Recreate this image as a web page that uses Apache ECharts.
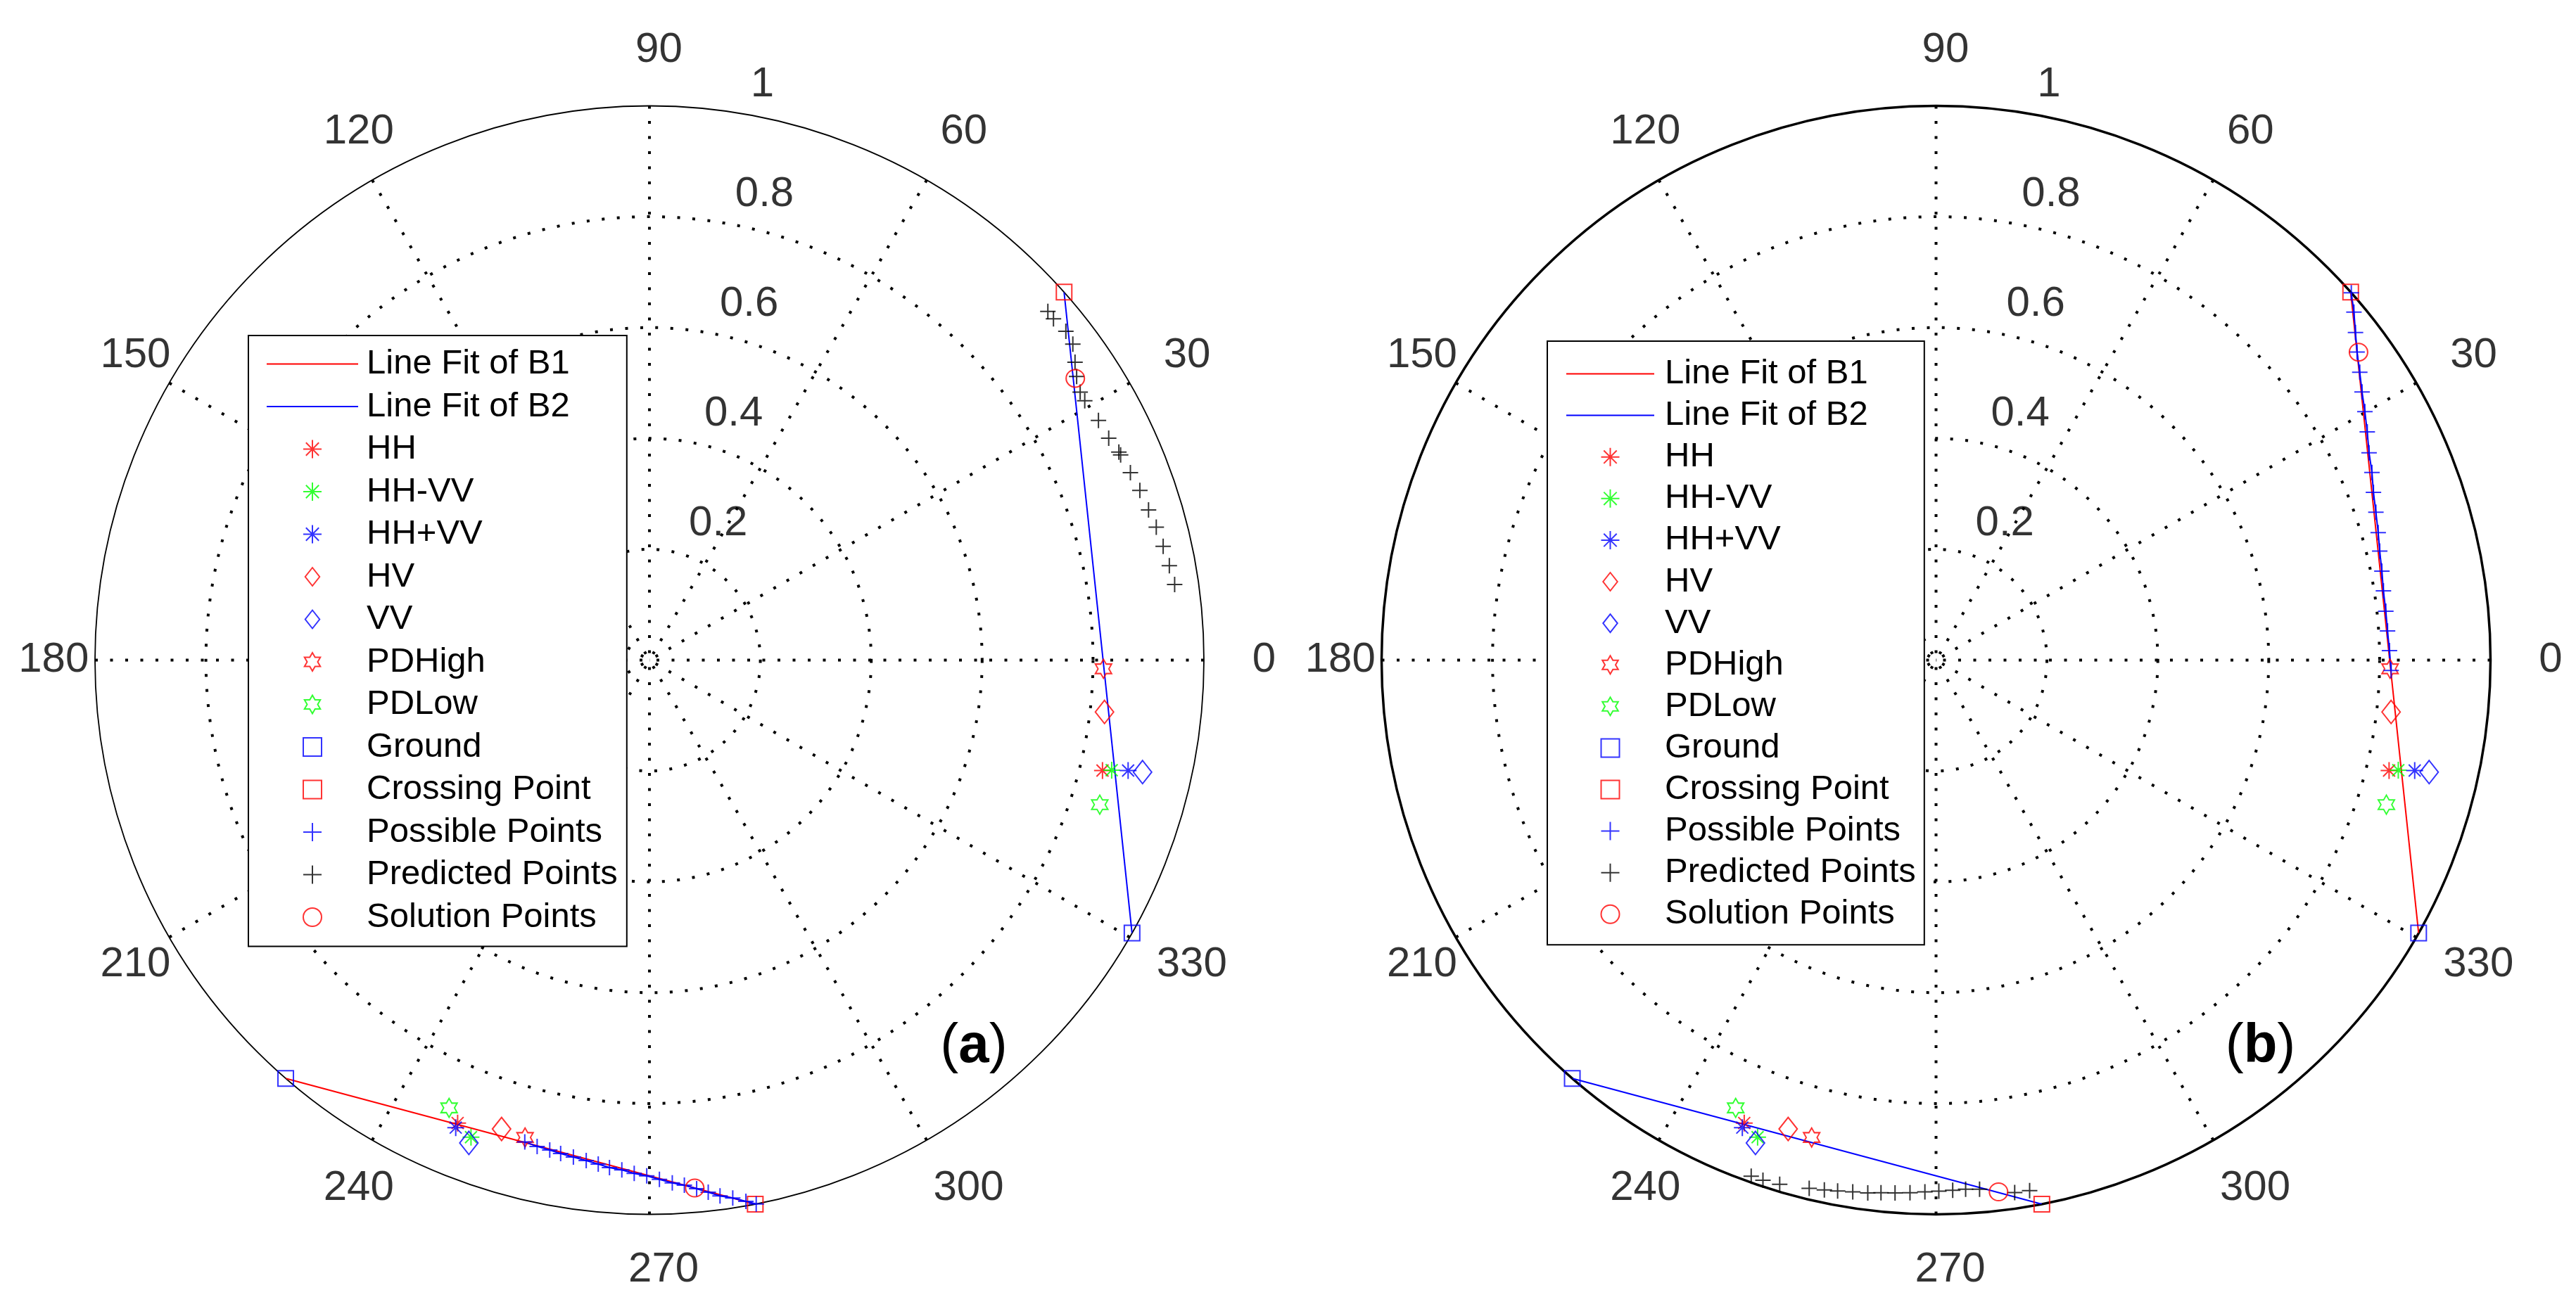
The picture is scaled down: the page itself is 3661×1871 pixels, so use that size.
<!DOCTYPE html>
<html><head><meta charset="utf-8">
<script src="https://cdn.jsdelivr.net/npm/echarts@6/dist/echarts.min.js"></script>
<style>html,body{margin:0;padding:0;background:#fff}#c{width:3661px;height:1871px}</style>
</head><body><div id="c"></div>
<script>
// ---------- tick labels ----------
const angleTicks = [0, 30, 60, 90, 120, 150, 180, 210, 240, 270, 300, 330];
const radiusTicks = [0.2, 0.4, 0.6, 0.8, 1];
const panelLabels = ['a', 'b'];

// ---------- data: [radius, angle(deg)] ----------
const HH      = [[0.841, 346.3], [0.904, 247.5]];
const HHmVV   = [[0.857, 346.6], [0.919, 249.5]];
const HHpVV   = [[0.886, 347.0], [0.913, 247.5]];
const HV      = [[0.826, 353.5], [0.887, 252.5]];
const VV      = [[0.912, 347.2], [0.930, 249.5]];
const PDHigh  = [[0.819, 358.9], [0.890, 255.4]];
const PDLow   = [[0.853, 342.2], [0.885, 245.9]];
const Ground  = [[1.0, 330.5], [1.0, 229.0]];
const Crossing = [[1.0, 41.6], [1.0, 281.0]];

// panel (a)
const fitB1_a = [[1.0, 229.0], [1.0, 281.0]];
const fitB2_a = [[1.0, 330.5], [1.0, 41.6]];
const possible_a = [[0.898,255.5],[0.9005,257.0],[0.902,258.5],[0.9045,259.8],[0.907,261.3],[0.910,262.8],[0.914,264.2],[0.9185,265.5],[0.921,266.9],[0.9265,268.3],[0.9305,269.7],[0.937,271.1],[0.944,272.5],[0.9495,273.8],[0.9575,275.1],[0.966,276.3],[0.975,277.5],[0.982,278.8],[0.992,280.1],[1.0,281.1]];
const predicted_a = [[0.955,41.2],[0.954,40.2],[0.957,38.3],[0.953,36.75],[0.937,35.0],[0.925,33.6],[0.915,31.9],[0.914,30.8],[0.918,28.1],[0.920,25.8],[0.926,23.9],[0.927,23.55],[0.931,21.3],[0.936,19.1],[0.940,16.75],[0.945,14.7],[0.949,12.5],[0.953,10.3],[0.957,8.2]];
const solution_a = [[0.921, 33.5], [0.956, 274.9]];

// panel (b)
const fitB1_b = [[1.0, 330.5], [1.0, 41.6]];
const fitB2_b = [[1.0, 229.0], [1.0, 281.0]];
const possible_b = [[1.0,41.5],[0.981,39.8],[0.960,38.0],[0.941,36.2],[0.924,34.2],[0.908,32.2],[0.894,30.1],[0.880,27.9],[0.866,25.6],[0.856,23.3],[0.845,21.0],[0.837,18.6],[0.830,16.1],[0.824,13.8],[0.820,11.3],[0.8165,8.8],[0.816,6.2],[0.816,3.7],[0.818,1.2],[0.821,358.7]];
const predicted_b = [[0.989,250.3],[0.989,251.6],[0.987,253.4],[0.980,256.5],[0.977,258.1],[0.974,259.5],[0.971,261.1],[0.969,262.7],[0.966,264.1],[0.964,265.6],[0.962,267.2],[0.9595,268.8],[0.958,270.3],[0.957,271.8],[0.956,273.2],[0.958,274.7],[0.971,278.4],[0.972,280.0]];
const solution_b = [[0.943, 36.1], [0.966, 276.7]];

// ---------- styles ----------
const FONT = '"Liberation Sans", Arial, Helvetica, sans-serif';
const RED = '#ff0000', GREEN = '#00ff00', BLUE = '#0000ff', BLACK = '#000000';
const CX = [923, 2751.5], CY = 938.5, R = 788;
const DOT = [4, 17.5];

const P_PLUS = 'path://M0,-1L0,1M-1,0L1,0';
const P_AST = 'path://M0,-1L0,1M-1,0L1,0M-0.707,-0.707L0.707,0.707M-0.707,0.707L0.707,-0.707';
const P_HEX = 'path://M0,-1L-0.2887,-0.5L-0.866,-0.5L-0.577,0L-0.866,0.5L-0.2887,0.5L0,1L0.2887,0.5L0.866,0.5L0.577,0L0.866,-0.5L0.2887,-0.5Z';
const P_RECT = 'path://M-1,-1L1,-1L1,1L-1,1Z';
const P_DIAM = 'path://M0,-33L26,0L0,33L-26,0Z';

function marker(name, data, symbol, size, color, pi) {
  return {
    name, type: 'scatter', coordinateSystem: 'polar', polarIndex: pi, data,
    symbol, symbolSize: size, clip: false, silent: true, z: 5,
    itemStyle: { color: 'rgba(0,0,0,0)', borderColor: color, borderWidth: 2 },
    emphasis: { disabled: true }
  };
}
function fitLine(name, data, color, pi, z) {
  return {
    name, type: 'line', coordinateSystem: 'polar', polarIndex: pi, data,
    symbol: 'none', clip: false, silent: true, z: z || 3,
    lineStyle: { color, width: 2 }, itemStyle: { color },
    emphasis: { disabled: true }
  };
}
function tickLabelSeries(pi) {
  return [{
    type: 'scatter', coordinateSystem: 'polar', polarIndex: pi, silent: true, clip: false,
    symbol: 'circle', symbolSize: 1, itemStyle: { color: 'rgba(0,0,0,0)' }, z: 6,
    emphasis: { disabled: true },
    data: angleTicks.map(a => ({ value: [1.1, a], label: { offset: [6.7 * String(a).length, 0] } })),
    label: { show: true, position: 'inside', formatter: p => String(p.value[1]),
      fontSize: 60, fontFamily: FONT, color: BLACK }
  }, {
    type: 'scatter', coordinateSystem: 'polar', polarIndex: pi, silent: true, clip: false,
    symbol: 'circle', symbolSize: 1, itemStyle: { color: 'rgba(0,0,0,0)' }, z: 6,
    emphasis: { disabled: true },
    data: radiusTicks.map(r => ({ name: String(r), value: [r + 0.01, 82] })),
    label: { show: true, position: 'inside', align: 'left', verticalAlign: 'bottom',
      formatter: '{b}', padding: [0, 0, 0, 33], fontSize: 60, fontFamily: FONT, color: BLACK }
  }];
}
function panelSeries(pi, fitB1, fitB2, possible, predicted, solution) {
  return [
    fitLine('Line Fit of B1', fitB1, RED, pi),
    fitLine('Line Fit of B2', fitB2, BLUE, pi),
    fitLine('Line Fit of B2', possible, BLUE, pi, 4),
    marker('HH', HH, P_AST, 24, RED, pi),
    marker('HH-VV', HHmVV, P_AST, 24, GREEN, pi),
    marker('HH+VV', HHpVV, P_AST, 24, BLUE, pi),
    marker('HV', HV, P_DIAM, [26, 33], RED, pi),
    marker('VV', VV, P_DIAM, [26, 33], BLUE, pi),
    marker('PDHigh', PDHigh, P_HEX, [23, 27], RED, pi),
    marker('PDLow', PDLow, P_HEX, [23, 27], GREEN, pi),
    marker('Ground', Ground, P_RECT, 22, BLUE, pi),
    marker('Crossing Point', Crossing, P_RECT, 22, RED, pi),
    marker('Possible Points', possible, P_PLUS, 22, BLUE, pi),
    marker('Predicted Points', predicted, P_PLUS, 22, BLACK, pi),
    marker('Solution Points', solution, 'circle', [26, 25], RED, pi)
  ].concat(tickLabelSeries(pi));
}

const legendNames = ['Line Fit of B1', 'Line Fit of B2', 'HH', 'HH-VV', 'HH+VV', 'HV', 'VV', 'PDHigh', 'PDLow', 'Ground', 'Crossing Point', 'Possible Points', 'Predicted Points', 'Solution Points'];
const legendData = legendNames.map(n => n.indexOf('Line Fit') === 0 ? { name: n, itemStyle: { opacity: 0 } } : { name: n });

function legendCfg(left, top, itemWidth, gap, padding, textPad) {
  return {
    type: 'plain', orient: 'vertical', left, top, itemWidth, itemHeight: 26, itemGap: gap,
    padding, borderColor: BLACK, borderWidth: 2, backgroundColor: '#fff', selectedMode: false,
    symbolKeepAspect: true,
    textStyle: { fontSize: 49, lineHeight: 49, fontFamily: FONT, color: BLACK, padding: [0, 0, 0, textPad] },
    data: legendData, z: 10
  };
}

function axes(pi, lineW) {
  return {
    angle: {
      polarIndex: pi, type: 'value', min: 0, max: 360, interval: 30, startAngle: 0, clockwise: false,
      axisLine: { show: true, lineStyle: { color: BLACK, width: lineW } },
      axisTick: { show: false }, axisLabel: { show: false },
      splitLine: { show: true, lineStyle: { color: BLACK, width: 4, type: DOT } }
    },
    radius: {
      polarIndex: pi, type: 'value', min: 0, max: 1, interval: 0.2,
      axisLine: { show: false }, axisTick: { show: false }, axisLabel: { show: false },
      splitLine: { show: true, lineStyle: { color: [BLACK, BLACK, BLACK, BLACK, BLACK, 'rgba(0,0,0,0)'], width: 4, type: DOT } }
    }
  };
}
const ax0 = axes(0, 1.8), ax1 = axes(1, 3.5);

const chart = echarts.init(document.getElementById('c'), null, { renderer: 'canvas' });
chart.setOption({
  animation: false,
  backgroundColor: '#fff',
  polar: [
    { center: [CX[0], CY], radius: R },
    { center: [CX[1], CY], radius: R }
  ],
  angleAxis: [ax0.angle, ax1.angle],
  radiusAxis: [ax0.radius, ax1.radius],
  legend: [
    legendCfg(353, 477, 130, 11.5, [16, 13, 17, 25], 7),
    legendCfg(2199, 485, 125, 10.1, [22, 12, 19, 26], 10)
  ],
  graphic: panelLabels.map((t, i) => ({
    type: 'text', x: CX[i] + 461, y: CY + 550, z: 20,
    style: {
      text: '{p|(}{b|' + t + '}{p|)}', align: 'center', verticalAlign: 'middle', fill: BLACK,
      rich: {
        p: { fontSize: 78, fontFamily: FONT, fill: BLACK },
        b: { fontSize: 78, fontFamily: FONT, fontWeight: 'bold', fill: BLACK }
      }
    }
  })),
  series: panelSeries(0, fitB1_a, fitB2_a, possible_a, predicted_a, solution_a)
    .concat(panelSeries(1, fitB1_b, fitB2_b, possible_b, predicted_b, solution_b))
});
</script>
</body></html>
